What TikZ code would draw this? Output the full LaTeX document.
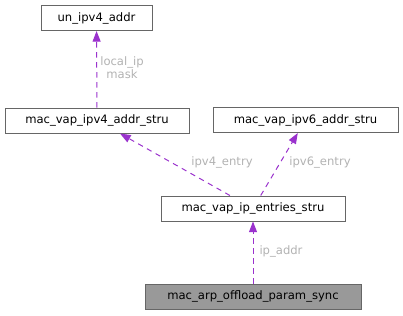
\documentclass[tikz,border=0pt]{standalone}
\usepackage{fontspec}
\setmainfont{DejaVu Sans}
\usetikzlibrary{arrows.meta}

\begin{document}
\begin{tikzpicture}[
    x=0.75pt, y=-0.75pt,
    node/.style={rectangle, draw=black!60, fill=white, line width=0.75pt,
                 minimum height=18.75pt, inner sep=0pt,
                 align=center, font=\fontsize{8.7}{10}\selectfont},
    main/.style={node, fill=black!40},
    lbl/.style={font=\fontsize{8.7}{9.6}\selectfont, text=black!30,
                align=center, inner sep=0pt},
    arrow/.style={-{Triangle[length=8pt, width=6pt]}, line width=0.75pt,
                  color={rgb,255:red,154;green,50;blue,205},
                  dash pattern=on 4pt off 3.5pt}
]
    \useasboundingbox (0,0) rectangle (403,315);

    \node[node] (unip)    at (96.5, 18)   [minimum width=83.25pt] {un\_ipv4\_addr};
    \node[node] (ipv4)    at (97, 120.5)  [minimum width=138pt] {mac\_vap\_ipv4\_addr\_stru};
    \node[node] (ipv6)    at (305.5, 120) [minimum width=138.75pt] {mac\_vap\_ipv6\_addr\_stru};
    \node[node] (entries) at (253, 208.5) [minimum width=138pt] {mac\_vap\_ip\_entries\_stru};
    \node[main] (sync)    at (253, 296.5) [minimum width=162pt] {mac\_arp\_offload\_param\_sync};

    \draw[arrow] (ipv4) -- (unip);
    \draw[arrow] (entries) -- (ipv4);
    \draw[arrow] (entries) -- (ipv6);
    \draw[arrow] (sync) -- (entries);

    \node[lbl] (lblunip)    at (122, 68)  {local\_ip\\mask};
    \node[lbl] (lblipv4)    at (222, 162) {ipv4\_entry};
    \node[lbl] (lblipv6)    at (320, 162) {ipv6\_entry};
    \node[lbl] (lblentries) at (281, 251) {ip\_addr};
\end{tikzpicture}
\end{document}
